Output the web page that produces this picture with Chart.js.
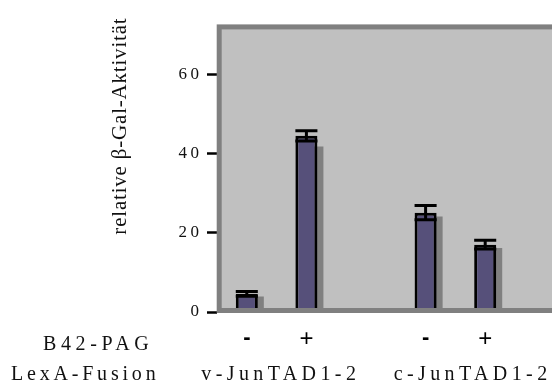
<!DOCTYPE html>
<html>
<head>
<meta charset="utf-8">
<script src="https://cdn.jsdelivr.net/npm/chart.js@4.4.1/dist/chart.umd.min.js"></script>
<style>
  html, body { margin: 0; padding: 0; background: #fff; overflow: hidden; }
  canvas { display: block; }
</style>
</head>
<body>
<canvas id="chart" width="600" height="387"></canvas>
<script>
// Werte (Lücke zwischen den beiden Gruppen = null)
const b42Labels = ['-', '+', '', '-', '+', ''];
const aktivitaet = [4.6, 44.5, null, 25.1, 17.0, null];
const fehler = [0.6, 1.3, null, 1.8, 1.1, null];
const schatten = [3.9, 41.8, null, 24.1, 16.2, null];
const yTicks = [0, 20, 40, 60];
const fusionLabels = ['v-JunTAD1-2', 'c-JunTAD1-2'];
const fusionGruppen = [[0, 1], [3, 4]];

const FARBEN = {
  balken: '#56507a',
  schatten: '#808080',
  flaeche: '#c0c0c0',
  rahmen: '#808080',
  text: '#111111',
};

const SERIF = "'Liberation Serif', 'Times New Roman', serif";

// Text mit Sperrung zeichnen (links ausgerichtet)
function spaced(ctx, txt, x, y, font, ls) {
  ctx.font = font;
  ctx.letterSpacing = ls + 'px';
  ctx.fillText(txt, x, y);
}
function spacedWidth(ctx, txt, font, ls) {
  ctx.font = font;
  ctx.letterSpacing = ls + 'px';
  return ctx.measureText(txt).width - ls;
}

const diagrammPlugin = {
  id: 'diagramm',
  beforeDatasetsDraw(chart) {
    const { ctx, chartArea: a } = chart;
    ctx.save();
    ctx.fillStyle = FARBEN.flaeche;
    ctx.fillRect(a.left, a.top, a.right - a.left, a.bottom - a.top);
    ctx.restore();
  },
  beforeDatasetDraw(chart, args) {
    if (args.index === 1) {
      chart.ctx.save();
      chart.ctx.translate(6, 0);
    }
  },
  afterDatasetDraw(chart, args) {
    if (args.index === 1) chart.ctx.restore();
  },
  afterDatasetsDraw(chart) {
    const { ctx, chartArea: a } = chart;
    const y = chart.scales.y;
    ctx.save();
    // Fehlerbalken
    ctx.strokeStyle = '#000';
    ctx.lineWidth = 3;
    chart.getDatasetMeta(0).data.forEach((bar, i) => {
      if (fehler[i] == null || aktivitaet[i] == null) return;
      const top = y.getPixelForValue(aktivitaet[i] + fehler[i]);
      const bot = y.getPixelForValue(aktivitaet[i] - fehler[i]);
      const half = bar.width / 2;
      ctx.beginPath();
      ctx.moveTo(bar.x, top); ctx.lineTo(bar.x, bot);
      ctx.moveTo(bar.x - half, top); ctx.lineTo(bar.x + half, top);
      ctx.moveTo(bar.x - half, bot); ctx.lineTo(bar.x + half, bot);
      ctx.stroke();
    });
    // Rahmen
    ctx.strokeStyle = FARBEN.rahmen;
    ctx.lineWidth = 5;
    ctx.strokeRect(a.left + 2.2, a.top - 0.1, a.right - a.left + 40, (a.bottom - 1.5) - (a.top - 0.1));
    ctx.restore();
  },
  afterDraw(chart) {
    const { ctx } = chart;
    const y = chart.scales.y;
    const x = chart.scales.x;
    ctx.save();
    ctx.fillStyle = FARBEN.text;
    ctx.textAlign = 'left';

    // y-Achsenbeschriftung
    ctx.textBaseline = 'middle';
    const tickFont = '17px ' + SERIF;
    yTicks.forEach(v => {
      const txt = String(v);
      const w = spacedWidth(ctx, txt, tickFont, 3.5);
      spaced(ctx, txt, 199 - w, y.getPixelForValue(v), tickFont, 3.5);
    });

    // y-Achsentitel
    ctx.textBaseline = 'alphabetic';
    const titel = 'relative β-Gal-Aktivität';
    const titelFont = '21px ' + SERIF;
    const tw = spacedWidth(ctx, titel, titelFont, 0.8);
    ctx.save();
    ctx.translate(126, 126.5);
    ctx.rotate(-Math.PI / 2);
    spaced(ctx, titel, -tw / 2, 0, titelFont, 0.8);
    ctx.restore();

    // Zeilenbeschriftungen unten
    const zeileFont = '20px ' + SERIF;
    spaced(ctx, 'B42-PAG', 43, 350, zeileFont, 4.6);
    spaced(ctx, 'LexA-Fusion', 11, 380, zeileFont, 3.8);
    const verschiebung = [2, 15];
    fusionLabels.forEach((lab, k) => {
      const [i0, i1] = fusionGruppen[k];
      const mitte = (x.getPixelForValue(i0) + x.getPixelForValue(i1)) / 2 + verschiebung[k];
      const w = spacedWidth(ctx, lab, zeileFont, 4.4);
      spaced(ctx, lab, mitte - w / 2, 380, zeileFont, 4.4);
    });
    ctx.restore();
  },
};

new Chart(document.getElementById('chart'), {
  type: 'bar',
  data: {
    labels: b42Labels,
    datasets: [
      {
        label: 'Aktivität',
        data: aktivitaet,
        backgroundColor: FARBEN.balken,
        borderColor: '#000',
        borderWidth: 3,
        grouped: false,
        order: 1,
      },
      {
        label: 'Schatten',
        data: schatten,
        backgroundColor: FARBEN.schatten,
        borderWidth: 0,
        grouped: false,
        order: 2,
      },
    ],
  },
  options: {
    responsive: false,
    animation: false,
    events: [],
    layout: { padding: { top: 27, right: 25.4, left: 0, bottom: 0 } },
    datasets: {
      bar: { barPercentage: 0.37, categoryPercentage: 1 },
    },
    plugins: {
      legend: { display: false },
      tooltip: { enabled: false },
    },
    scales: {
      x: {
        grid: { display: false, drawTicks: false },
        border: { display: false },
        ticks: {
          color: '#000',
          // "+" dünn, "-" fett wie im Original
          font: (c) => (c.tick && c.tick.label === '+')
            ? { family: 'Liberation Sans', size: 24, weight: 'normal' }
            : { family: 'Liberation Sans', size: 22, weight: 'bold' },
          padding: 13,
          maxRotation: 0,
          autoSkip: false,
        },
        afterFit(scale) { scale.height = 75; },
      },
      y: {
        min: 0,
        max: 72,
        afterBuildTicks(scale) { scale.ticks = yTicks.map(v => ({ value: v })); },
        grid: {
          drawOnChartArea: false,
          drawTicks: true,
          tickLength: 10,
          tickWidth: 2.5,
          tickColor: '#000',
        },
        border: { display: false },
        ticks: { display: false },
        afterFit(scale) { scale.width = 217; },
      },
    },
  },
  plugins: [diagrammPlugin],
});
</script>
</body>
</html>
